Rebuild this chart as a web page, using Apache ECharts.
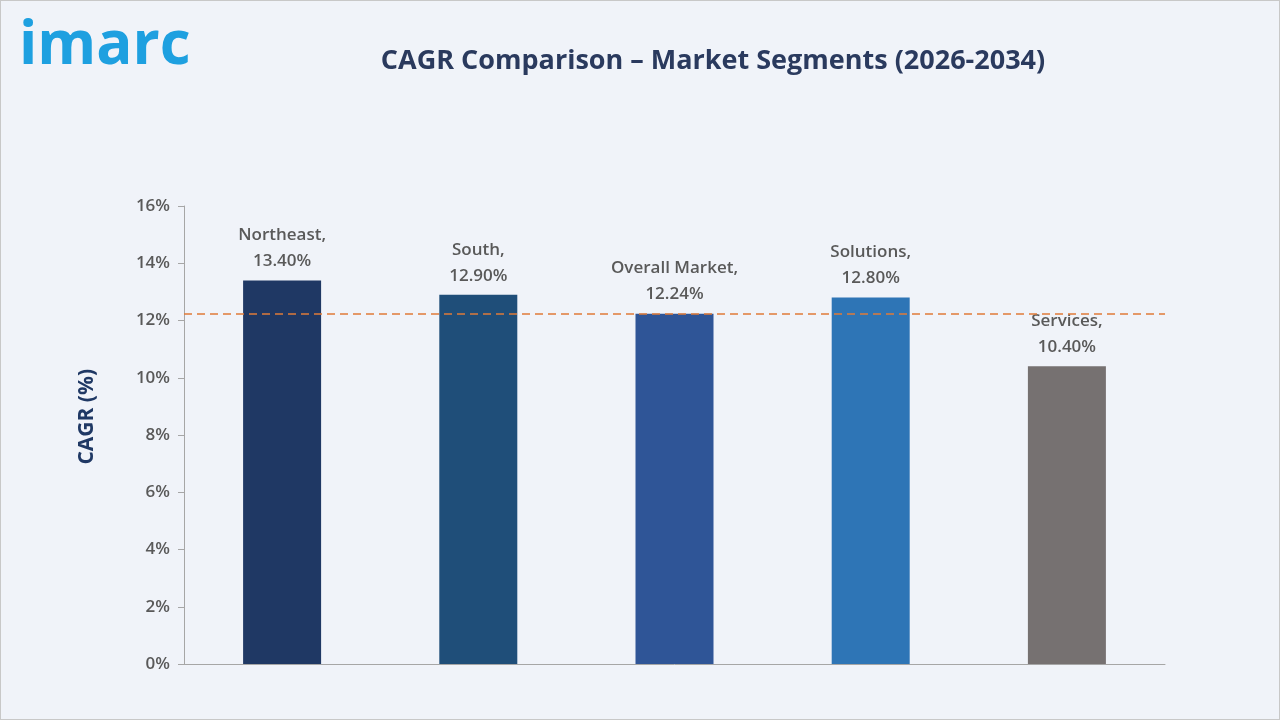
<!DOCTYPE html>
<html>
<head>
<meta charset="utf-8">
<title>CAGR Comparison</title>
<script src="https://cdn.jsdelivr.net/npm/echarts@6/dist/echarts.min.js"></script>
<style>
  html, body { margin: 0; padding: 0; background: #f0f3f9; }
  #main { width: 1278px; height: 718px; border: 1px solid #c8c8c8; }
</style>
</head>
<body>
<div id="main"></div>
<script>
var categories = ['Northeast', 'South', 'Overall Market', 'Solutions', 'Services'];
var values = [13.40, 12.90, 12.24, 12.80, 10.40];
var barColors = ['#1f3864', '#1f4e79', '#2f5597', '#2e75b6', '#767171'];
var overall = 12.24;

var myChart = echarts.init(document.getElementById('main'));
var option = {
    backgroundColor: '#f0f3f9',
    title: {
        text: 'CAGR Comparison \u2013 Market Segments (2026-2034)',
        left: 707, top: 42, textAlign: 'center',
        textStyle: { fontFamily: 'Open Sans', fontSize: 27, fontWeight: 'bold', color: '#2a3a5e' }
    },
    graphic: [{
        type: 'text', left: 18, top: 16,
        style: { text: 'imarc', font: 'bold 60px "Open Sans"', fill: '#1ea0e0' }
    }, {
        type: 'text', left: 76, top: 368, rotation: Math.PI / 2,
        style: { text: 'CAGR (%)', font: 'bold 21px "Open Sans"', fill: '#1f3864',
                 textAlign: 'center', textVerticalAlign: 'middle' }
    }],
    grid: { left: 183, right: 114, top: 205, bottom: 55 },
    xAxis: {
        type: 'category',
        data: categories,
        axisLine: { lineStyle: { color: '#a6a6a6' } },
        axisTick: { show: false },
        axisLabel: { show: false }
    },
    yAxis: {
        type: 'value', min: 0, max: 16, interval: 2,
        axisLine: { show: true, lineStyle: { color: '#a6a6a6' } },
        axisTick: { show: true, length: 6, lineStyle: { color: '#a6a6a6' } },
        splitLine: { show: false },
        axisLabel: { formatter: '{value}%', fontFamily: 'Open Sans', fontSize: 17, fontWeight: 600, color: '#595959', margin: 14 }
    },
    series: [{
        type: 'bar',
        barWidth: 78,
        data: values.map(function (v, i) {
            return { value: v, itemStyle: { color: barColors[i] } };
        }),
        label: {
            show: true, position: 'top', distance: 6,
            fontFamily: 'Open Sans', fontSize: 17, fontWeight: 600, color: '#595959', lineHeight: 26,
            formatter: function (p) { return categories[p.dataIndex] + ',\n' + p.value.toFixed(2) + '%'; }
        },
        markLine: {
            silent: true, symbol: 'none', label: { show: false },
            lineStyle: { color: '#e07b39', type: [8, 5], width: 1.5 },
            data: [{ yAxis: overall }]
        }
    }]
};
myChart.setOption(option);
</script>
</body>
</html>
